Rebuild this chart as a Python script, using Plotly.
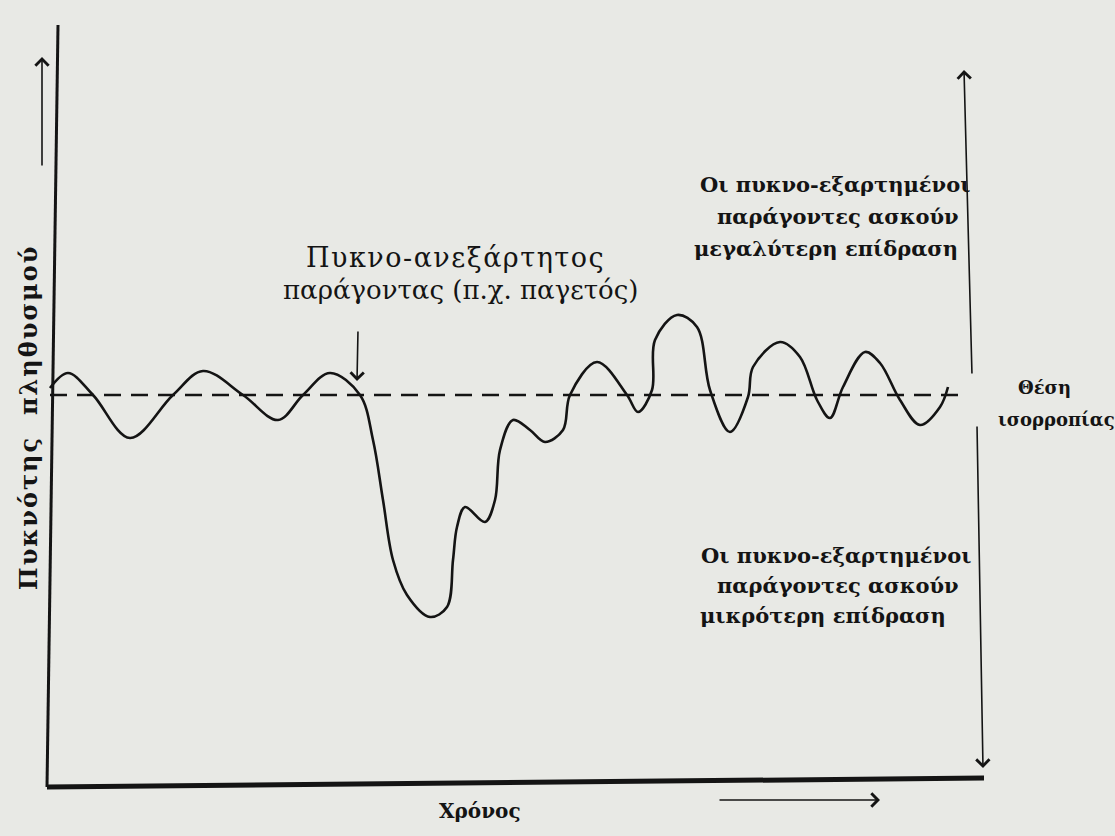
import plotly.graph_objects as go

# Time (horizontal position) and population density relative to equilibrium (0)
TIME = [50, 68, 93, 130, 173, 203, 243, 278, 303, 330, 360, 373, 383, 393, 407, 430, 447,
        453, 457, 465, 485, 495, 500, 513, 530, 545, 563, 570, 597, 627, 638, 652, 655,
        677, 697, 710, 730, 748, 753, 780, 800, 817, 830, 843, 865, 880, 900, 920, 940, 948]
DENSITY = [7, 22, 0, -43, 0, 24, 0, -25, 0, 22, 0, -45, -105, -165, -200, -222, -212,
           -165, -132, -112, -127, -105, -55, -25, -35, -47, -35, 0, 33, 0, -17, 5, 55,
           80, 68, 5, -37, -2, 28, 53, 38, -5, -23, 8, 43, 32, -5, -30, -12, 8]
EQ_TIME = [50, 962]
EQ_DENSITY = [0, 0]

Y_LABEL = "Πυκνότης  πληθυσμού"
X_LABEL = "Χρόνος"
EVENT_LABEL = ["Πυκνο-ανεξάρτητος", "παράγοντας (π.χ. παγετός)"]
UPPER_LABEL = ["Οι πυκνο-εξαρτημένοι", "παράγοντες ασκούν", "μεγαλύτερη επίδραση"]
LOWER_LABEL = ["Οι πυκνο-εξαρτημένοι", "παράγοντες ασκούν", "μικρότερη επίδραση"]
EQ_LABEL = ["Θέση", "ισορροπίας"]

INK = "#141414"
BG = "#e8e9e5"
W, H = 1115, 836
Y0 = 395  # pixel row of the equilibrium line


def py(p):
    """convert pixel row to density units"""
    return Y0 - p


fig = go.Figure()
fig.add_trace(go.Scatter(x=EQ_TIME, y=EQ_DENSITY, mode="lines",
                         line=dict(color=INK, width=2.5, dash="17px,10px"),
                         hoverinfo="skip"))
fig.add_trace(go.Scatter(x=TIME, y=DENSITY, mode="lines",
                         line=dict(color=INK, width=2.6, shape="spline", smoothing=1.0),
                         hoverinfo="skip"))

# axes lines (hand drawn, slightly slanted)
fig.add_shape(type="line", x0=58, y0=py(25), x1=47, y1=py(787), line=dict(color=INK, width=3))
fig.add_shape(type="line", x0=47, y0=py(787), x1=984, y1=py(778), line=dict(color=INK, width=5))


def arrow(x0, y0, x1, y1, width=1.6, head=4, size=1.6):
    fig.add_annotation(x=x1, y=py(y1), ax=x0, ay=py(y0), xref="x", yref="y",
                       axref="x", ayref="y", showarrow=True, arrowhead=head,
                       arrowsize=size, arrowwidth=width, arrowcolor=INK, text="")


arrow(42, 167, 42, 57)            # y direction arrow
arrow(718, 800, 880, 800)         # time direction arrow
arrow(358, 330, 357, 381)         # event pointer
arrow(972, 375, 964, 70)          # upper range arrow
arrow(977, 425, 983, 768)         # lower range arrow


def text(s, x, y, size, font="DejaVu Serif", bold=True, angle=0, spacing=0):
    t = f'<span style="letter-spacing:{spacing}px">{s}</span>' if spacing else s
    if bold:
        t = f"<b>{t}</b>"
    fig.add_annotation(x=x, y=py(y), xref="x", yref="y", text=t,
                       showarrow=False, textangle=angle,
                       font=dict(family=font, size=size, color=INK))


text(Y_LABEL, 28, 418, 24, angle=-90, spacing=2)
text(X_LABEL, 480, 811, 20)
text(EVENT_LABEL[0], 455, 257, 27, bold=False, spacing=1.5)
text(EVENT_LABEL[1], 460, 290, 26, bold=False)
for s, y, x in zip(UPPER_LABEL, [184, 216, 248], [835, 838, 826]):
    text(s, x, y, 21)
for s, y, x in zip(LOWER_LABEL, [555, 585, 615], [836, 838, 823]):
    text(s, x, y, 21)
text(EQ_LABEL[0], 1044, 387, 18)
text(EQ_LABEL[1], 1056, 419, 18)

fig.update_layout(width=W, height=H, margin=dict(l=0, r=0, t=0, b=0),
                  paper_bgcolor=BG, plot_bgcolor=BG, showlegend=False,
                  xaxis=dict(range=[0, W], visible=False, fixedrange=True),
                  yaxis=dict(range=[py(H), py(0)], visible=False, fixedrange=True))
fig.write_html("out.html", config={"displayModeBar": False},
               post_script="document.body.style.margin='0';document.body.style.background='%s';" % BG)
